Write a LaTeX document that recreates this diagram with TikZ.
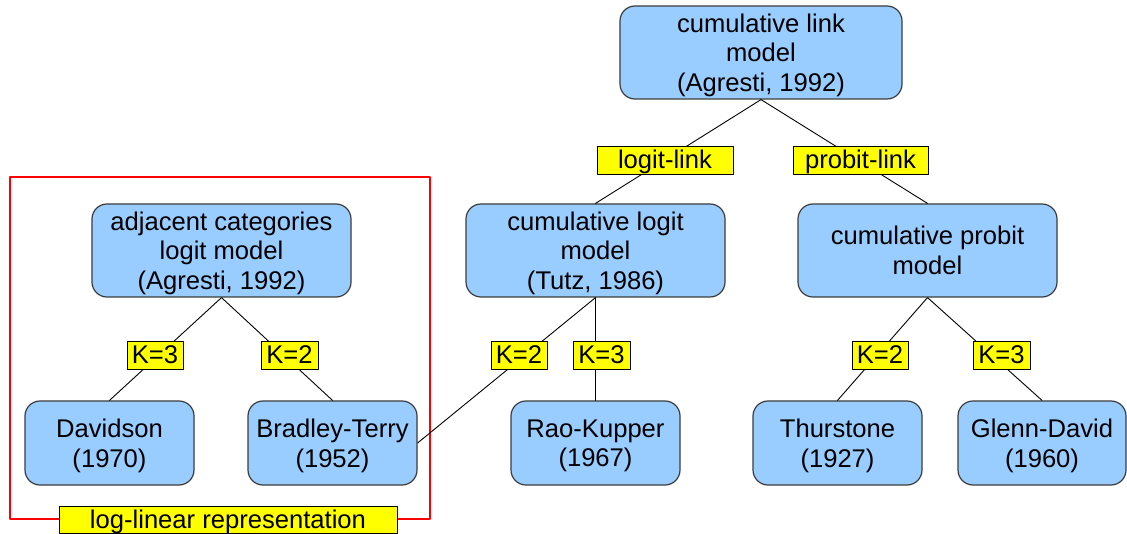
\documentclass[tikz,border=0pt]{standalone}
\usepackage{fontspec}
\setmainfont{Liberation Sans}
\usepackage{tikz}
\usetikzlibrary{positioning}
\definecolor{boxblue}{HTML}{99CCFF}
\definecolor{boxline}{HTML}{3C3C3C}
\definecolor{tagyellow}{HTML}{FFFF00}
\tikzset{
  model box/.style={draw=boxline,fill=boxblue,rounded corners=15pt,line width=1.2pt,align=center,inner sep=0pt},
  link tag/.style={draw=black,fill=tagyellow,line width=.9pt,inner sep=0pt,minimum height=28pt,text height=19pt,text depth=2pt},
  tree edge/.style={line width=.9pt},
  group frame/.style={draw=red,line width=1.6pt}
}
\newcommand{\citeline}[1]{\smash{(#1)}}

\begin{document}
\begin{tikzpicture}[x=1pt,y=-1pt,line cap=round,line join=round,font=\fontsize{25.6}{29.5}\selectfont]
  \useasboundingbox (0,0) rectangle (1127,534);

  % model boxes
  \node[model box,minimum width=282pt,minimum height=93pt] (clink)   at ( 761.0, 52.5) {cumulative link\\model\\\citeline{Agresti, 1992}};
  \node[model box,minimum width=259pt,minimum height=93pt] (adjcat)  at ( 221.5,250.5) {adjacent categories\\logit model\\\citeline{Agresti, 1992}};
  \node[model box,minimum width=259pt,minimum height=93pt] (clogit)  at ( 595.5,250.5) {cumulative logit\\model\\\citeline{Tutz, 1986}};
  \node[model box,minimum width=259pt,minimum height=93pt] (cprobit) at ( 927.5,250.5) {cumulative probit\\model};
  \node[model box,minimum width=169pt,minimum height=84pt] (david)   at ( 109.5,443.0) {Davidson\\\citeline{1970}};
  \node[model box,minimum width=169pt,minimum height=84pt] (bradley) at ( 332.5,443.0) {Bradley-Terry\\\citeline{1952}};
  \node[model box,minimum width=169pt,minimum height=84pt] (raokup)  at ( 595.5,443.0) {Rao-Kupper\\\citeline{1967}};
  \node[model box,minimum width=169pt,minimum height=84pt] (thurst)  at ( 837.5,443.0) {Thurstone\\\citeline{1927}};
  \node[model box,minimum width=168pt,minimum height=84pt] (glenn)   at (1042.0,443.0) {Glenn-David\\\citeline{1960}};

  % log-linear group
  \draw[group frame] (10,177) rectangle (430,519);

  \draw[tree edge] (clink.south)--(clogit.north) (clink.south)--(cprobit.north)
        (adjcat.south)--(david.north) (adjcat.south)--(bradley.north)
        (clogit.south)--(bradley.east) (clogit.south)--(raokup.north)
        (cprobit.south)--(thurst.north) (cprobit.south)--(glenn.north);

  % link tags
  \node[link tag,minimum width=136pt] (logit)  at ( 665.0,160.0) {logit-link};
  \node[link tag,minimum width=135pt] (probit) at ( 860.5,160.0) {probit-link};
  \node[link tag,minimum width=56pt]  (kadjA)  at ( 155.0,355.5) {K=3};
  \node[link tag,minimum width=57pt]  (kadjB)  at ( 289.5,355.5) {K=2};
  \node[link tag,minimum width=56pt]  (klogA)  at ( 519.0,355.5) {K=2};
  \node[link tag,minimum width=57pt]  (klogB)  at ( 601.5,355.5) {K=3};
  \node[link tag,minimum width=56pt]  (kproA)  at ( 880.0,355.5) {K=2};
  \node[link tag,minimum width=57pt]  (kproB)  at (1001.5,355.5) {K=3};
  \node[link tag,minimum width=338pt,minimum height=27pt] (loglin) at (228.0,519.5) {log-linear representation};
\end{tikzpicture}
\end{document}
